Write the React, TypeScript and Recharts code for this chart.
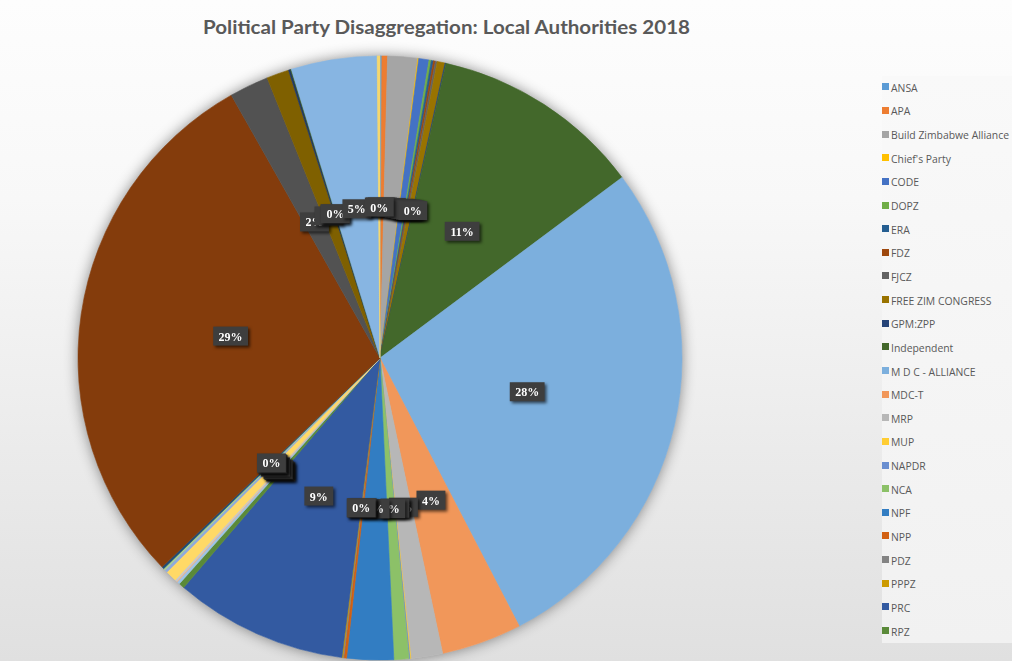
import React from 'react';
import { PieChart, Pie, Cell, Legend } from 'recharts';

const chartTitle = 'Political Party Disaggregation: Local Authorities 2018';

const partyNames = [
  'ANSA', 'APA', 'Build Zimbabwe Alliance', "Chief's Party", 'CODE', 'DOPZ', 'ERA', 'FDZ', 'FJCZ',
  'FREE ZIM CONGRESS', 'GPM:ZPP', 'Independent', 'M D C - ALLIANCE', 'MDC-T', 'MRP', 'MUP', 'NAPDR',
  'NCA', 'NPF', 'NPP', 'PDZ', 'PPPZ', 'PRC', 'RPZ',
  'SDP', 'UANC', 'UDF', 'UMP', 'ZANU', 'ZANU NDONGA', 'ZAPP', 'ZANU PF', 'ZAPU', 'ZDU', 'ZIPP', 'ZPP',
  'ZIMBABWE FIRST', 'ZUP',
];

const partyShares = [
  0.1, 0.3, 1.6, 0.05, 0.55, 0.12, 0.12, 0.1, 0.1,
  0.42, 0.05, 11.3, 27.6, 4.3, 1.7, 0.05, 0.05,
  0.8, 2.5, 0.15, 0.05, 0.05, 9.25, 0.3,
  0.15, 0.05, 0.1, 0.6, 0.15, 0.1, 0.12, 29.0, 2.1, 1.2, 0.1, 0.05,
  4.6, 0.15,
];

const partyColors = [
  '#5B9BD5', '#ED7D31', '#A5A5A5', '#FFC000', '#4472C4', '#70AD47', '#255E91', '#9E480E', '#636363',
  '#997300', '#264478', '#43682B', '#7CAFDD', '#F1975A', '#B7B7B7', '#FFCD33', '#698ED0',
  '#8CC168', '#327DC2', '#D26012', '#848484', '#CC9A00', '#335AA1', '#5A8A39',
  '#9DC3E6', '#F4B183', '#C9C9C9', '#FFD966', '#8FAADC', '#A9D18E', '#1F4E79', '#843C0C', '#525252',
  '#7F6000', '#203864', '#385723', '#87B5E2', '#F5D76E',
];

const legendCount = 24;

const pieData = partyNames.map((name, i) => ({ name, value: partyShares[i], fill: partyColors[i] }));
const backdropData = [{ name: 'backdrop', value: 1 }];

const RAD = Math.PI / 180;

function renderLabel(props: any) {
  const { cx, cy, midAngle, outerRadius, percent, index } = props;
  const r = outerRadius * 0.5;
  const x = cx + r * Math.cos(-midAngle * RAD);
  const y = cy + r * Math.sin(-midAngle * RAD);
  const text = `${Math.round(percent * 100)}%`;
  const w = 12 + 5.9 * (text.length - 1) + 11;
  const h = 19;
  return (
    <g key={`lbl-${index}`} style={{ filter: 'drop-shadow(2px 2px 1.5px rgba(0,0,0,0.6))' }}>
      <rect x={x - w / 2} y={y - h / 2} width={w} height={h} fill="#3e3e3e" />
      <text
        x={x}
        y={y + 0.5}
        textAnchor="middle"
        dominantBaseline="central"
        fill="#ffffff"
        fontFamily="'Liberation Serif', 'DejaVu Serif', serif"
        fontWeight="bold"
        fontSize={12}
      >
        {text}
      </text>
    </g>
  );
}

function renderLegend(props: any) {
  const payload = (props.payload || [])
    .filter((p: any) => partyNames.indexOf(p.value) >= 0)
    .sort((a: any, b: any) => partyNames.indexOf(a.value) - partyNames.indexOf(b.value))
    .slice(0, legendCount);
  return (
    <div>
      {payload.map((entry: any, i: number) => (
        <div
          key={`leg-${i}`}
          style={{
            height: 23.65,
            display: 'flex',
            alignItems: 'center',
            fontFamily: "'Open Sans', 'Liberation Sans', sans-serif",
            fontSize: 10.4,
            color: '#595959',
            whiteSpace: 'nowrap',
          }}
        >
          <span
            style={{
              display: 'inline-block',
              width: 7,
              height: 7,
              background: entry.payload?.fill || entry.color,
              marginRight: 2,
              marginTop: -2,
            }}
          />
          <span>{entry.value}</span>
        </div>
      ))}
    </div>
  );
}

export default function App() {
  const cx = 380;
  const cy = 358;
  const radius = 302;
  return (
    <div
      style={{
        position: 'absolute',
        left: 0,
        top: 0,
        width: 1012,
        height: 661,
        overflow: 'hidden',
        background: 'linear-gradient(to bottom, #fdfdfd 0%, #f8f8f8 30%, #ececec 65%, #e0e0e0 100%)',
      }}
    >
      <div style={{ position: 'absolute', left: 0, top: 0 }}>
        <PieChart width={1012} height={661} margin={{ top: 0, right: 0, bottom: 0, left: 0 }}>
          <Pie
            data={backdropData}
            dataKey="value"
            cx={cx}
            cy={cy}
            outerRadius={radius}
            startAngle={90}
            endAngle={-270}
            isAnimationActive={false}
            legendType="none"
            label={false}
            labelLine={false}
            stroke="none"
          >
            <Cell fill="#cfcfcf" style={{ filter: 'drop-shadow(0px 0px 7px rgba(0,0,0,0.45))' }} />
          </Pie>
          <Pie
            data={pieData}
            dataKey="value"
            nameKey="name"
            cx={cx}
            cy={cy}
            outerRadius={radius}
            startAngle={90}
            endAngle={-270}
            isAnimationActive={false}
            label={renderLabel}
            labelLine={false}
          >
            {pieData.map((d, i) => (
              <Cell key={`c-${i}`} fill={d.fill} stroke={d.fill} strokeWidth={0.6} />
            ))}
          </Pie>
          <Legend
            layout="vertical"
            align="right"
            verticalAlign="top"
            content={renderLegend}
            wrapperStyle={{
              position: 'absolute',
              left: 882,
              top: 76,
              width: 130,
              height: 567,
              background: 'linear-gradient(to bottom, #f9f9f9, #f1f1f1)',
            }}
          />
        </PieChart>
      </div>
      <svg width={1012} height={50} style={{ position: 'absolute', left: 0, top: 0 }}>
        <text
          x={446.5}
          y={34}
          textAnchor="middle"
          fontFamily="Lato, 'Open Sans', sans-serif"
          fontWeight={700}
          fontSize={19.5}
          fill="#595959"
          textLength={487}
          lengthAdjust="spacingAndGlyphs"
        >
          {chartTitle}
        </text>
      </svg>
    </div>
  );
}
